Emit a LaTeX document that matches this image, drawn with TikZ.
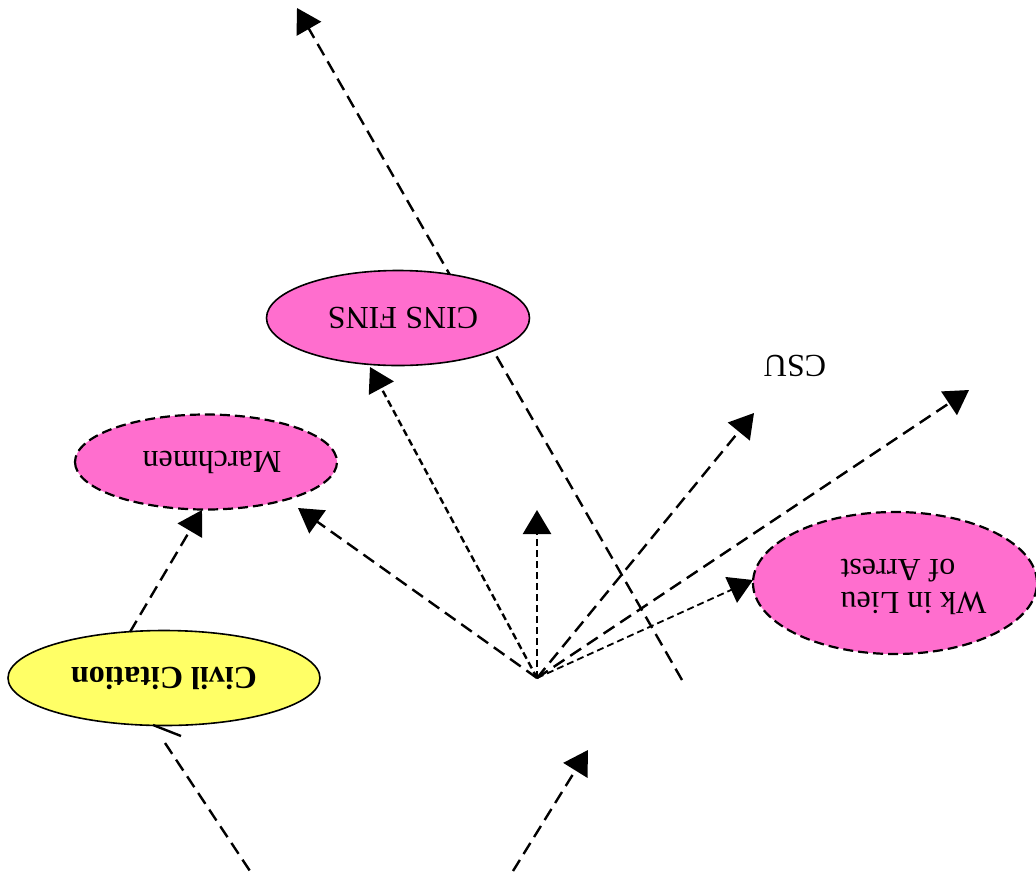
\documentclass[tikz,border=0pt]{standalone}
\usepackage{fontspec}
\setmainfont{Liberation Serif}
\usetikzlibrary{shapes.geometric,arrows.meta}
\definecolor{pinkfill}{HTML}{FF6ECE}
\definecolor{yellowfill}{HTML}{FFFF66}
\begin{document}
\begin{tikzpicture}[x=1pt,y=-1pt,
  every node/.style={font=\fontsize{32}{36}\selectfont},
  oval/.style={ellipse,draw=black,inner sep=0pt,rotate=180},
  pinksolid/.style={oval,fill=pinkfill,line width=1.6pt},
  pinkdash/.style={oval,fill=pinkfill,line width=2.2pt,dash pattern=on 10pt off 5pt},
  yellowsolid/.style={oval,fill=yellowfill,line width=1.6pt},
  tip/.style={-{Triangle[length=24pt,width=28pt]}},
  longdash/.style={line width=2.4pt,dash pattern=on 13pt off 7pt},
  shortdash/.style={line width=2.4pt,dash pattern=on 7pt off 4pt},
  thindash/.style={line width=1.8pt,dash pattern=on 7pt off 4pt}
]
\useasboundingbox (0,0) rectangle (1036,871);
% free ends
\coordinate (hub) at (537,678);
\coordinate (topStart) at (682,680);
\coordinate (topEnd) at (297,8);
\coordinate (upEnd) at (537,510);
\coordinate (leftEnd) at (298,508);
\coordinate (cinsTip) at (370,367);
\coordinate (csuEnd) at (754,413);
\coordinate (farEnd) at (969,390);
\coordinate (wkTip) at (753,580);
\coordinate (civTop) at (130,632);
\coordinate (marTip) at (202,510);
\coordinate (civBotA) at (153,725);
\coordinate (civBotB) at (181,736);
\coordinate (blA) at (165,743);
\coordinate (blB) at (250,871);
\coordinate (brA) at (513,871);
\coordinate (brB) at (588,750);

% long line passing behind CINS FINS
\draw[longdash,tip] (topStart) -- (topEnd);

% nodes
\node[pinksolid,minimum width=263pt,minimum height=95pt] (cins) at (398,318) {CINS FINS\rule{10pt}{0pt}};
\node[pinkdash,minimum width=262pt,minimum height=95pt] (march) at (206,462) {Marchmen\rule{12pt}{0pt}};
\node[yellowsolid,minimum width=312pt,minimum height=95pt,font=\fontsize{32}{36}\selectfont\bfseries] (civil) at (164,678) {Civil Citation};
\node[pinkdash,minimum width=284pt,minimum height=142pt] (wk) at (895,583)
  {\begin{tabular}{@{}r@{}}Wk in Lieu\\[-3pt]of Arrest\end{tabular}\rule{37pt}{0pt}};
\node[rotate=180,inner sep=0pt] (csu) at (795,366) {CSU};

% connectors from hub
\draw[shortdash,tip] (hub) -- (upEnd);
\draw[longdash,tip] (hub) -- (leftEnd);
\draw[shortdash,tip] (hub) -- (cinsTip);
\draw[longdash,tip] (hub) -- (csuEnd);
\draw[longdash,tip] (hub) -- (farEnd);
\draw[thindash,tip] (hub) -- (wkTip);

% Civil Citation to Marchmen
\draw[longdash,tip] (civTop) -- (marTip);

% bottom lines
\draw[line width=2.4pt] (civBotA) -- (civBotB);
\draw[longdash] (blA) -- (blB);
\draw[longdash,tip] (brA) -- (brB);
\end{tikzpicture}
\end{document}
